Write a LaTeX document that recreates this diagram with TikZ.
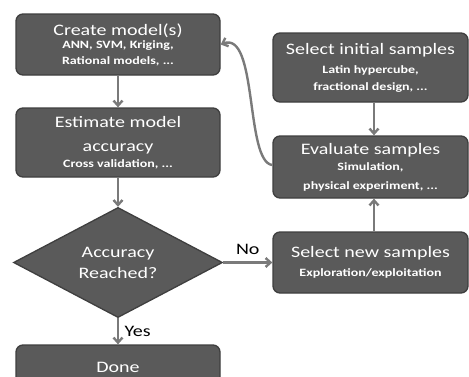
\documentclass[tikz,border=0pt]{standalone}
\usepackage{fontspec}
\setmainfont{Carlito}[FakeStretch=1.25]
\usetikzlibrary{arrows.meta, shapes.geometric}

\definecolor{boxfill}{HTML}{5A5A5A}
\definecolor{boxline}{HTML}{3F3F3F}
\definecolor{arrowgray}{HTML}{7A7A7A}

\newcommand{\titlefont}{\fontsize{16}{15}\selectfont\mdseries}
\newcommand{\subfont}{\fontsize{11.2}{15}\selectfont\bfseries}

\begin{document}
\begin{tikzpicture}[x=1pt, y=-1pt,
    procbox/.style={draw=boxline, line width=1.3pt, fill=boxfill, rounded corners=7pt,
      text=white, align=center, inner sep=0pt, font=\subfont},
    decbox/.style={diamond, draw=boxline, line width=1.3pt, fill=boxfill,
      text=white, align=center, inner sep=0pt, font=\subfont},
    flow/.style={draw=arrowgray, line width=2.4pt, -{Straight Barb[length=5pt, width=9pt]}},
    lbl/.style={font=\titlefont, text=black}]
  \clip (0,0) rectangle (469,376);

  % left column
  \node[procbox, minimum width=204pt, minimum height=61pt] (create) at (118,44.5)
    {\titlefont Create model(s)\\[-2pt]\subfont ANN, SVM, Kriging,\\[1pt]\subfont Rational models, ...};
  \node[procbox, minimum width=204pt, minimum height=69pt] (estimate) at (118,142.5)
    {\titlefont Estimate model\\[9pt]\titlefont accuracy\\[1pt]\subfont Cross validation, ...};
  \node[decbox, minimum width=209pt, minimum height=101pt] (reached) at (118,262.5)
    {\titlefont Accuracy\\[6pt]\titlefont Reached?};
  \node[procbox, minimum width=204pt, minimum height=44pt] (done) at (118,367)
    {\titlefont Done};

  % right column
  \node[procbox, minimum width=195pt, minimum height=69pt] (initial) at (370.5,67.5)
    {\titlefont Select initial samples\\[4pt]\subfont Latin hypercube,\\[2pt]\subfont fractional design, ...};
  \node[procbox, minimum width=195pt, minimum height=62pt] (evaluate) at (370.5,167)
    {\titlefont Evaluate samples\\[1pt]\subfont Simulation,\\[4pt]\subfont physical experiment, ...};
  \node[procbox, minimum width=195pt, minimum height=61pt] (newsamp) at (370.5,262.5)
    {\titlefont Select new samples\\[4pt]\subfont Exploration/exploitation};

  % connectors
  \draw[flow] (create) -- (estimate);
  \draw[flow] (estimate) -- (reached);
  \draw[flow] (reached) -- node[lbl, right=2pt] {Yes} (done);
  \draw[flow] (reached) -- node[lbl, above=3pt, pos=0.5] {No} (newsamp);
  \draw[flow] (initial.south -| 374,0) -- (evaluate.north -| 374,0);
  \draw[flow] (newsamp.north -| 374,0) -- (evaluate.south -| 374,0);
  \draw[flow] (evaluate.west |- 0,165) .. controls (245,162) and (258,30) .. (create.east);
\end{tikzpicture}
\end{document}
